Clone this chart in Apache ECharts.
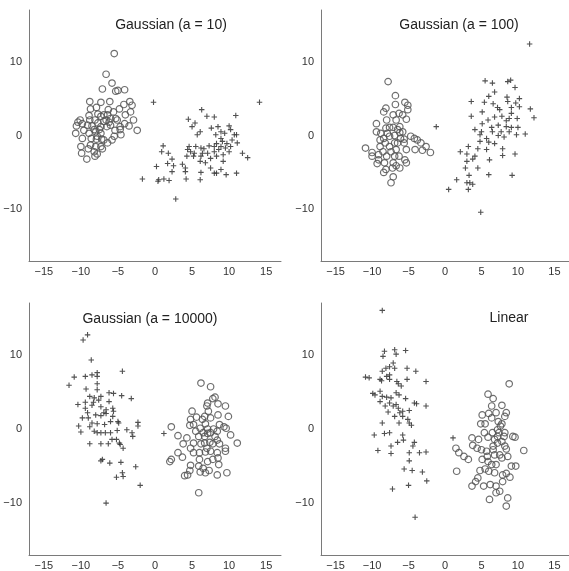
<!DOCTYPE html>
<html>
<head>
<meta charset="utf-8">
<script src="https://cdn.jsdelivr.net/npm/echarts@6/dist/echarts.min.js"></script>
<style>
  html, body { margin: 0; padding: 0; background: #fff; }
  #chart { width: 569px; height: 571px; }
</style>
</head>
<body>
<div id="chart"></div>
<script>
const titles = ["Gaussian (a = 10)", "Gaussian (a = 100)", "Gaussian (a = 10000)", "Linear"];
const xTicks = [-15, -10, -5, 0, 5, 10, 15];
const yTicks = [-10, 0, 10];

// Gaussian (a = 10)
const g10Circles = [
  [-5.5, 11.1], [-6.6, 8.3], [-5.8, 7.1], [-7.1, 6.3], [-5.3, 6.0], [-5.0, 6.1], [-4.1, 6.2],
  [-8.8, 4.6], [-7.3, 4.5], [-6.1, 4.6], [-4.8, 3.6], [-4.2, 4.2], [-3.4, 4.6], [-3.1, 4.1],
  [-3.3, 3.2], [-8.7, 3.6], [-7.9, 3.8], [-7.7, 2.9], [-8.9, 2.7], [-6.9, 2.8], [-6.4, 2.8],
  [-5.6, 3.2], [-5.3, 2.3], [-6.0, 2.3], [-6.6, 2.1], [-10.1, 2.1], [-10.4, 1.8], [-9.8, 1.6],
  [-9.1, 1.4], [-8.5, 1.3], [-7.7, 1.7], [-7.3, 1.2], [-6.5, 1.2], [-6.0, 1.4], [-4.7, 1.2],
  [-4.1, 1.6], [-3.5, 1.3], [-2.9, 2.1], [-2.4, 0.7], [-10.6, 1.3], [-10.7, 0.3], [-9.6, 0.7],
  [-8.9, 0.3], [-8.2, 0.8], [-7.3, 0.3], [-5.4, 0.7], [-4.7, 0.8], [-4.6, 0.1], [-5.5, -0.1],
  [-7.2, -0.5], [-7.9, -0.5], [-9.8, -0.4], [-10.0, -1.5], [-8.7, -1.3], [-8.0, -1.5], [-7.3, -1.5],
  [-9.0, -1.8], [-8.2, -2.2], [-9.9, -2.4], [-7.8, -2.5], [-8.1, -2.8], [-9.2, -3.2], [-6.9, -0.6],
  [-6.4, -1.0], [-7.1, -1.8], [-5.8, -0.6], [-7.8, -0.1], [-8.6, -0.4], [-7.5, 0.8], [-6.9, 1.9],
  [-6.2, 1.8], [-5.1, 2.1], [-8.1, 2.1], [-8.8, 2.1], [-8.0, 0.5], [-7.3, 2.6], [-6.3, 3.5], [-4.0, 2.8]
];
const g10Plus = [
  [-0.2, 4.5], [14.1, 4.5], [6.3, 3.5], [4.5, 2.2], [5.4, 1.7], [5.0, 1.2], [7.0, 2.6], [8.0, 2.5],
  [10.9, 2.7], [6.1, 0.5], [5.7, 0.1], [7.6, 1.0], [8.5, 1.2], [8.9, 0.5], [8.2, 0.1], [9.4, 0.3],
  [10.0, 1.3], [10.2, 0.8], [10.7, 0.1], [11.0, 0.1], [10.4, -0.6], [9.7, -1.1], [8.9, -1.5],
  [8.3, -1.1], [7.3, -1.4], [6.6, -1.8], [6.2, -1.7], [5.5, -1.5], [4.6, -1.5], [4.4, -1.9],
  [4.8, -2.2], [6.4, -2.4], [7.1, -2.4], [8.0, -2.2], [8.6, -1.9], [9.2, -2.6], [10.0, -2.2],
  [11.8, -2.4], [12.5, -3.0], [6.2, -2.8], [5.2, -2.8], [4.3, -2.8], [7.5, -3.1], [8.3, -2.8],
  [9.2, -3.5], [6.8, -3.7], [6.1, -3.5], [3.7, -3.9], [4.1, -4.4], [1.1, -1.4], [0.9, -2.2],
  [1.8, -2.4], [2.3, -3.2], [1.7, -3.8], [2.5, -4.1], [0.2, -4.2], [2.3, -4.9], [4.1, -4.9],
  [6.2, -5.0], [8.0, -5.1], [8.3, -5.1], [9.6, -5.3], [11.0, -5.1], [8.9, -4.6], [7.5, -4.4],
  [-1.7, -5.9], [0.5, -6.0], [0.4, -6.2], [1.2, -5.9], [1.9, -6.1], [4.2, -5.9], [6.1, -6.0],
  [2.8, -8.6], [9.1, -0.8], [11.1, -1.0], [10.2, -1.5], [9.5, -1.7], [8.0, -1.5], [8.9, -0.4], [5.3, -2.4]
];

// Gaussian (a = 100)
const g100Circles = [
  [-7.8, 7.3], [-6.8, 5.4], [-5.5, 4.5], [-5.1, 4.1], [-6.8, 4.2], [-8.1, 3.7], [-8.4, 3.2],
  [-5.1, 3.5], [-7.1, 2.8], [-6.3, 3.0], [-5.8, 2.8], [-5.3, 2.2], [-9.4, 1.6], [-9.4, 0.5],
  [-8.1, 1.0], [-7.6, 1.1], [-7.1, 1.1], [-6.5, 0.8], [-5.8, 0.5], [-6.2, 1.2], [-8.9, -0.6],
  [-8.4, -0.4], [-7.6, -0.1], [-6.9, 0.0], [-6.1, -0.4], [-5.6, -0.5], [-4.7, -0.1], [-4.2, -0.4],
  [-3.8, -0.6], [-3.3, -1.0], [-2.6, -1.5], [-2.0, -2.3], [-3.1, -2.0], [-4.1, -1.9], [-5.3, -1.9],
  [-5.6, -1.0], [-6.5, -1.0], [-8.2, -1.0], [-8.9, -1.5], [-10.9, -1.7], [-10.0, -2.3], [-10.0, -2.8],
  [-9.1, -2.6], [-8.5, -2.2], [-7.4, -2.2], [-6.7, -1.9], [-8.0, -2.8], [-6.9, -2.8], [-5.5, -3.3],
  [-9.3, -3.8], [-8.3, -3.7], [-7.1, -3.7], [-6.7, -4.1], [-6.2, -4.4], [-5.3, -3.7], [-8.4, -5.0],
  [-7.1, -5.6], [-7.4, -6.4], [-8.1, -4.6], [-7.6, -1.5], [-6.2, 0.4], [-6.9, -1.0], [-6.3, -2.8],
  [-9.1, -3.3], [-7.9, 0.3], [-8.8, 0.3], [-6.7, 2.1], [-8.0, 2.1], [-7.2, -4.4]
];
const g100Plus = [
  [11.6, 12.4], [5.5, 7.4], [6.5, 7.1], [8.6, 7.3], [9.0, 7.5], [3.6, 4.6], [6.8, 5.9], [6.0, 5.3],
  [5.4, 4.5], [8.5, 5.2], [9.6, 6.5], [10.2, 5.0], [9.7, 4.4], [7.2, 3.8], [9.1, 3.8], [10.2, 3.9],
  [11.7, 3.6], [12.2, 2.4], [3.6, 2.6], [5.1, 3.2], [6.8, 2.5], [7.8, 2.6], [8.8, 2.3], [9.9, 2.3],
  [7.3, 1.4], [8.4, 1.2], [9.1, 1.1], [10.0, 1.1], [-1.2, 1.2], [4.1, 0.8], [5.0, 0.5], [6.5, 0.5],
  [5.7, -0.4], [4.8, 0.1], [7.3, 0.0], [8.1, -0.2], [9.8, 0.1], [11.0, 0.2], [4.8, -0.8], [6.0, -0.9],
  [6.8, -1.1], [3.2, -1.5], [4.5, -1.8], [2.1, -2.2], [3.0, -2.5], [4.1, -2.8], [5.7, -1.9], [7.9, -1.8],
  [9.6, -2.5], [6.1, -3.3], [7.9, -2.7], [3.0, -3.5], [3.8, -3.2], [2.8, -4.4], [4.5, -4.4], [3.3, -5.4],
  [6.0, -5.3], [9.2, -5.4], [1.6, -6.0], [3.0, -6.4], [3.4, -6.4], [3.8, -6.6], [3.2, -7.3], [0.5, -7.3],
  [4.9, -10.4], [8.4, 2.0], [9.1, 3.0], [7.5, 3.5], [6.6, 4.3], [8.6, 4.6], [5.9, 2.1], [5.1, 1.6],
  [6.4, 1.1], [8.8, 0.5], [7.7, 0.5]
];

// Gaussian (a = 10000)
const g10000Plus = [
  [-9.1, 12.7], [-9.7, 12.0], [-8.6, 9.3], [-11.6, 5.9], [-10.9, 7.0], [-9.4, 7.1], [-8.5, 7.3],
  [-7.8, 7.6], [-7.8, 7.1], [-4.4, 7.8], [-7.8, 6.1], [-9.3, 5.4], [-8.8, 4.4], [-8.2, 4.2],
  [-7.3, 4.4], [-6.2, 4.9], [-5.6, 4.8], [-4.5, 4.5], [-3.2, 4.1], [-10.4, 3.3], [-9.4, 3.6],
  [-8.3, 3.6], [-7.6, 3.9], [-6.2, 3.7], [-9.4, 2.8], [-8.5, 3.2], [-7.3, 3.0], [-6.6, 2.6],
  [-5.7, 2.8], [-9.1, 2.2], [-9.8, 1.5], [-9.0, 1.5], [-8.0, 1.9], [-7.3, 1.8], [-6.6, 2.1],
  [-5.7, 1.7], [-8.5, 0.8], [-7.8, 0.7], [-6.8, 0.6], [-6.0, 1.0], [-5.0, 1.0], [-4.9, 0.8],
  [-10.3, 0.4], [-10.0, -0.4], [-8.8, 0.3], [-7.3, -0.5], [-6.7, -0.5], [-5.1, -0.2], [-3.8, -0.1],
  [-3.1, -0.5], [-2.3, 0.9], [-2.3, 0.4], [-3.0, -1.0], [-8.8, -2.0], [-7.3, -2.0], [-6.3, -2.0],
  [-5.8, -1.4], [-5.2, -1.4], [-4.7, -2.1], [-4.3, -2.6], [-4.8, -1.9], [1.2, -0.6], [-7.1, -4.1],
  [-7.3, -4.3], [-6.1, -4.6], [-4.6, -4.5], [-2.6, -5.1], [-5.2, -6.5], [-4.4, -5.9], [-4.3, -6.4],
  [-2.0, -7.6], [-6.6, -10.0], [-6.0, -0.5], [-7.8, -0.5], [-8.2, -0.3], [-6.9, 2.2], [-7.8, 5.3], [-5.6, 2.4]
];
const g10000Circles = [
  [6.2, 6.2], [7.5, 5.7], [8.1, 4.3], [7.8, 4.1], [7.1, 3.5], [8.5, 3.4], [9.5, 3.1], [9.9, 1.7],
  [8.5, 1.9], [6.7, 1.7], [7.5, 1.5], [6.4, 1.3], [5.6, 1.6], [4.8, 1.3], [4.7, 0.5], [2.2, 0.3],
  [5.2, 0.6], [6.8, 0.7], [8.7, 0.6], [9.3, 0.3], [9.6, 0.1], [6.1, 0.1], [7.1, 0.0], [7.9, 0.0],
  [5.5, -0.3], [6.5, -0.5], [7.1, -0.6], [10.2, -0.8], [3.1, -0.9], [4.3, -1.2], [5.9, -1.0],
  [8.1, -1.0], [8.4, -1.5], [5.2, -1.9], [6.2, -2.0], [6.7, -1.9], [7.4, -1.8], [7.8, -2.0],
  [8.7, -2.0], [11.1, -1.9], [3.8, -2.0], [4.8, -2.6], [9.5, -2.6], [5.2, -3.2], [6.0, -3.2],
  [6.8, -3.1], [7.5, -3.0], [8.4, -3.2], [9.5, -3.0], [3.1, -3.2], [3.7, -3.8], [2.2, -4.1],
  [2.0, -4.4], [6.0, -4.1], [7.1, -4.4], [7.8, -4.1], [8.5, -3.9], [4.8, -4.9], [5.9, -5.0],
  [6.5, -5.3], [7.3, -5.6], [8.6, -4.8], [4.7, -5.6], [4.4, -6.2], [4.0, -6.3], [6.1, -5.8],
  [6.8, -5.9], [8.4, -6.2], [9.7, -5.9], [5.9, -8.6], [7.0, 3.1], [7.2, 2.4], [6.7, -1.0],
  [7.5, -0.5], [8.4, -0.3], [7.0, -2.6], [5.0, 2.4]
];

// Linear
const linPlus = [
  [-8.6, 16.0], [-8.3, 10.5], [-6.9, 10.7], [-5.4, 10.6], [-6.7, 10.1], [-8.5, 9.8], [-7.1, 8.9],
  [-8.1, 8.2], [-7.6, 8.4], [-6.9, 8.2], [-5.2, 8.2], [-4.0, 7.8], [-8.6, 7.8], [-8.0, 7.1],
  [-7.6, 7.3], [-10.9, 7.0], [-10.4, 6.9], [-8.9, 6.7], [-8.7, 6.5], [-7.6, 6.7], [-6.6, 6.4],
  [-6.4, 6.1], [-6.0, 5.8], [-5.2, 6.7], [-2.6, 6.4], [-9.9, 4.8], [-9.6, 4.6], [-8.9, 5.1],
  [-8.6, 4.4], [-8.0, 4.3], [-7.4, 4.2], [-6.7, 4.9], [-6.3, 4.6], [-5.4, 4.1], [-4.2, 3.5],
  [-3.9, 3.4], [-2.6, 3.1], [-8.9, 3.7], [-8.2, 3.1], [-7.6, 3.5], [-7.1, 3.1], [-6.4, 2.8],
  [-4.9, 2.5], [-7.8, 2.3], [-6.9, 1.7], [-5.8, 1.7], [-5.1, 1.3], [-8.6, 0.8], [-6.3, 0.8],
  [-4.9, 0.8], [-4.6, 0.5], [-9.7, -0.8], [-8.3, -0.6], [-7.6, -0.5], [-5.8, -0.8], [-5.7, -1.5],
  [-6.5, -1.8], [-4.2, -1.8], [-4.4, -2.3], [-7.4, -2.3], [-9.2, -2.9], [-7.4, -3.3], [-4.9, -3.2],
  [-3.5, -3.2], [-2.6, -3.1], [-4.9, -4.3], [-5.6, -5.4], [-4.5, -5.6], [-3.1, -5.8], [-2.5, -7.0],
  [-5.0, -7.6], [-7.2, -8.1], [-4.1, -11.9], [1.1, -1.2], [-6.7, 3.3], [-5.8, 2.4], [-6.2, 2.2]
];
const linCircles = [
  [8.8, 6.1], [5.9, 4.7], [6.6, 4.1], [6.4, 3.1], [7.8, 3.2], [5.1, 1.9], [6.0, 2.1], [7.0, 2.2],
  [8.4, 2.2], [8.2, 1.7], [6.4, 1.5], [7.3, 1.0], [7.8, 0.7], [4.9, 0.7], [5.5, 0.7], [7.2, -0.1],
  [5.4, -0.5], [6.5, -0.5], [7.4, -0.5], [8.2, -0.5], [9.3, -1.0], [9.6, -1.1], [3.7, -1.2],
  [4.6, -1.4], [5.9, -1.1], [6.8, -1.4], [7.2, -1.9], [7.8, -1.7], [3.8, -2.2], [4.4, -2.6],
  [5.0, -2.8], [5.7, -3.0], [6.6, -2.8], [8.2, -2.3], [8.4, -2.7], [10.8, -2.9], [1.5, -2.6],
  [1.9, -3.2], [2.6, -3.7], [3.2, -4.1], [5.8, -3.7], [6.8, -3.5], [7.5, -3.5], [7.8, -3.9],
  [6.4, -4.8], [7.0, -4.8], [9.1, -5.0], [9.7, -5.0], [4.8, -5.6], [5.5, -5.4], [6.0, -5.7],
  [6.8, -5.9], [7.9, -6.2], [8.4, -6.0], [1.6, -5.7], [4.5, -6.6], [8.9, -6.5], [4.2, -7.1],
  [3.7, -7.7], [5.3, -7.7], [6.2, -7.5], [7.0, -7.7], [7.9, -7.1], [7.0, -8.6], [7.5, -8.4],
  [6.1, -9.5], [8.6, -9.3], [8.4, -10.4], [7.2, -1.0], [8.1, -1.0], [7.6, 0.4], [6.6, -2.3],
  [5.9, -4.4], [5.1, -4.1], [8.6, -3.7]
];

const panels = [
  { circles: g10Circles, plus: g10Plus },
  { circles: g100Circles, plus: g100Plus },
  { circles: g10000Circles, plus: g10000Plus },
  { circles: linCircles, plus: linPlus },
];

const grids = [
  { left: 29, top: 10, width: 252, height: 251 },
  { left: 321, top: 10, width: 252, height: 251 },
  { left: 29, top: 303, width: 252, height: 252 },
  { left: 321, top: 303, width: 252, height: 252 },
];
const titlePos = [[166, 13], [454, 13], [145, 307], [504, 306]];

const font = "'Liberation Sans', Arial, sans-serif";
const minus = (v) => (v < 0 ? "\u2212" + Math.abs(v) : String(v));
const plusPath = "path://M2,0H3V2H5V3H3V5H2V3H0V2H2Z";

const chart = echarts.init(document.getElementById("chart"));

const axisCommon = {
  type: "value",
  min: -17,
  max: 17,
  axisLine: { show: true, onZero: false, lineStyle: { color: "#7a7a7a", width: 1 } },
  axisTick: { show: false },
  splitLine: { show: false },
};

chart.setOption({
  backgroundColor: "#ffffff",
  animation: false,
  title: titles.map((text, i) => ({
    text,
    left: titlePos[i][0],
    top: titlePos[i][1],
    textAlign: "center",
    textStyle: { color: "#222", fontSize: 14, fontWeight: "normal", fontFamily: font },
  })),
  grid: grids,
  xAxis: grids.map((g, i) => ({
    ...axisCommon,
    gridIndex: i,
    position: "bottom",
    axisLabel: {
      customValues: xTicks,
      formatter: minus,
      color: "#333",
      fontSize: 11,
      fontFamily: font,
      margin: 5,
    },
  })),
  yAxis: grids.map((g, i) => ({
    ...axisCommon,
    gridIndex: i,
    position: "left",
    axisLabel: {
      customValues: yTicks,
      formatter: minus,
      color: "#333",
      fontSize: 11,
      fontFamily: font,
      margin: 7,
    },
  })),
  series: panels.flatMap((p, i) => [
    {
      type: "scatter",
      xAxisIndex: i,
      yAxisIndex: i,
      data: p.circles,
      symbol: "circle",
      symbolSize: 6.5,
      itemStyle: { color: "transparent", borderColor: "#555", borderWidth: 1.2, opacity: 0.85 },
    },
    {
      type: "scatter",
      xAxisIndex: i,
      yAxisIndex: i,
      data: p.plus,
      symbol: plusPath,
      symbolSize: 5.5,
      itemStyle: { color: "#333", opacity: 0.85 },
    },
  ]),
});
</script>
</body>
</html>
